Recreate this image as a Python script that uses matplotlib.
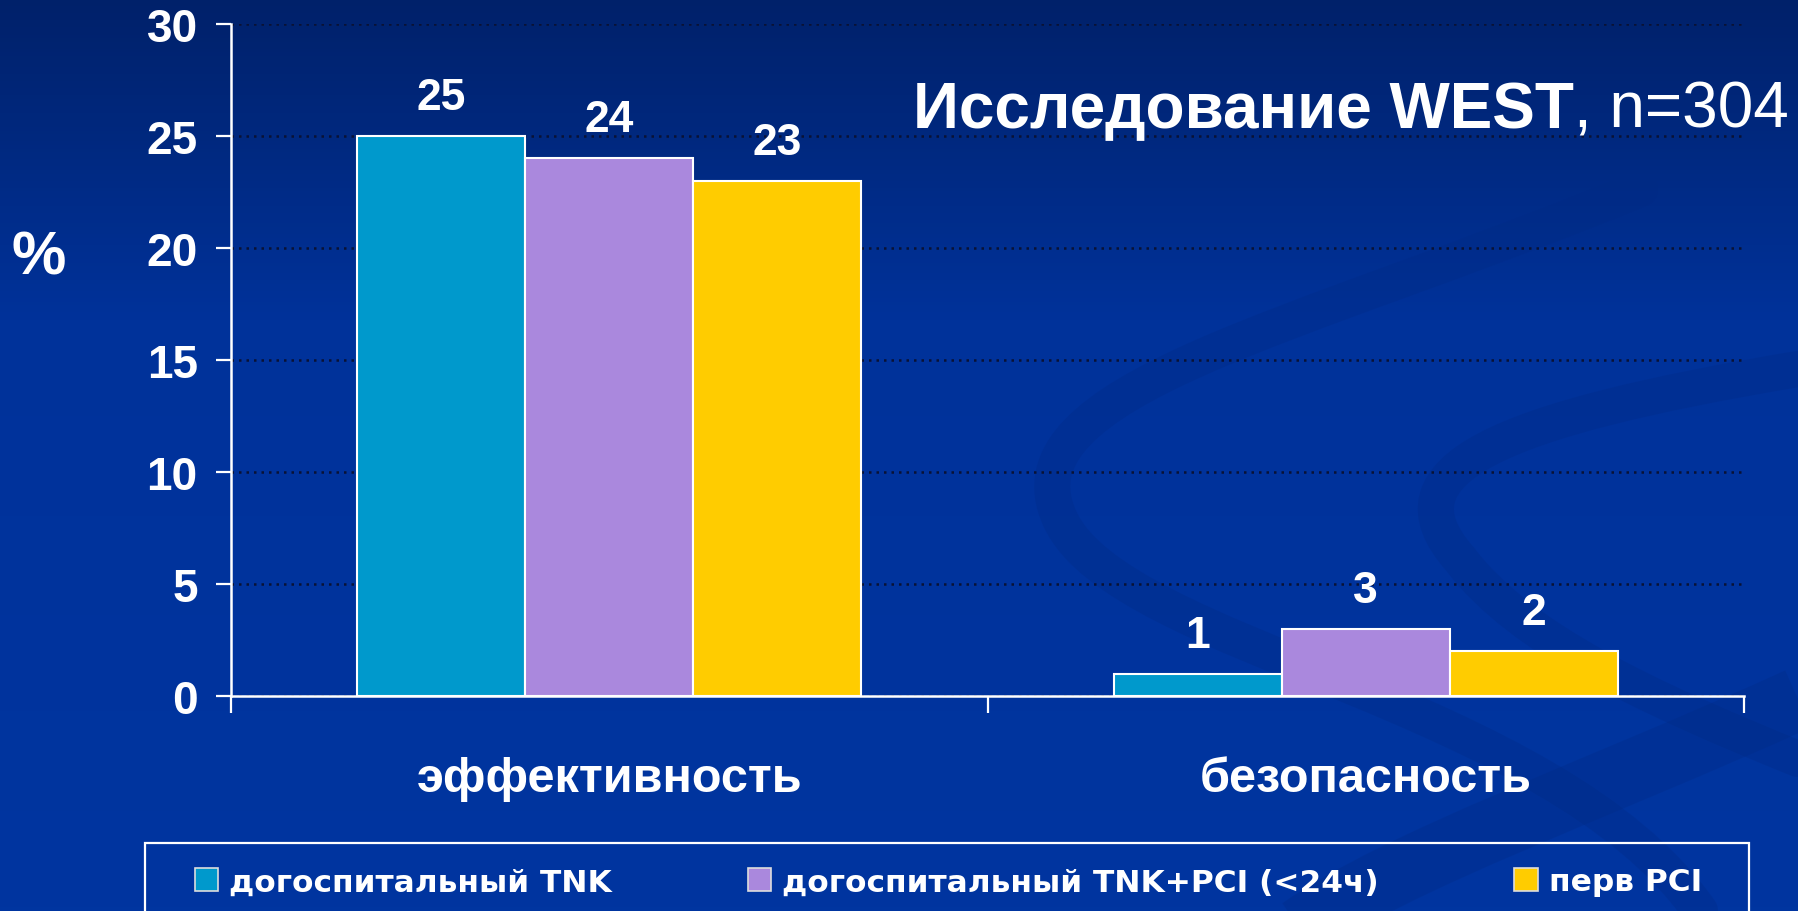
import numpy as np
import matplotlib.pyplot as plt
from matplotlib.patches import Patch, Rectangle, PathPatch
from matplotlib.path import Path
from matplotlib.colors import LinearSegmentedColormap

# данные
categories = ['эффективность', 'безопасность']
series_names = ['догоспитальный TNK', 'догоспитальный TNK+PCI (<24ч)', 'перв PCI']
values = [
    [25, 1],
    [24, 3],
    [23, 2],
]
colors = ['#0099cc', '#aa88dd', '#ffcc00']
yticks = [0, 5, 10, 15, 20, 25, 30]

W, H = 1798, 912
fig = plt.figure(figsize=(W / 100, H / 100), dpi=100)

# фон: градиент и завитки
bg = fig.add_axes([0, 0, 1, 1], zorder=-10)
grad = np.linspace(0, 1, 256).reshape(-1, 1)
cmap = LinearSegmentedColormap.from_list(
    'bg', [(0, '#00216a'), (0.35, '#00329a'), (1, '#0035a0')])
bg.imshow(grad, aspect='auto', cmap=cmap, extent=[0, W, H, 0])
bg.set_xlim(0, W)
bg.set_ylim(H, 0)
bg.axis('off')

swirls = [
    [(1640, 190), (1300, 330), (1000, 390), (1060, 520), (1120, 650), (1550, 700), (1700, 912)],
    [(1798, 370), (1500, 420), (1380, 470), (1460, 560), (1520, 640), (1650, 700), (1798, 760)],
]
for pts in swirls:
    codes = [Path.MOVETO] + [Path.CURVE4] * 6
    bg.add_patch(PathPatch(Path(pts, codes), facecolor='none',
                           edgecolor='#002a84', lw=26, alpha=0.3, capstyle='round'))
bg.add_patch(PathPatch(Path([(1798, 700), (1600, 790), (1400, 860), (1300, 930)],
                            [Path.MOVETO] + [Path.CURVE4] * 3),
                       facecolor='none', edgecolor='#002a84', lw=45, alpha=0.3))

# основной график
ax = fig.add_axes([231 / W, (H - 697) / H, 1513 / W, 672 / H])
ax.set_facecolor('none')

x = np.arange(len(categories))
width = 0.222
for i, (name, vals, c) in enumerate(zip(series_names, values, colors)):
    bars = ax.bar(x + (i - 1) * width, vals, width, color=c,
                  edgecolor='white', linewidth=1.5, zorder=3)
    ax.bar_label(bars, padding=13, fontsize=32, color='white',
                 family='Liberation Sans', fontweight='bold')

ax.set_xlim(-0.5, 1.5)
ax.set_ylim(0, 30)
ax.set_yticks(yticks)
ax.set_yticklabels([str(v) for v in yticks], fontsize=33, color='white',
                   family='Liberation Sans', fontweight='bold')
ax.tick_params(axis='y', length=11, width=1.6, color='white', pad=13)

ax.set_xticks([-0.5, 0.5, 1.5])
ax.set_xticklabels([])
ax.tick_params(axis='x', length=12, width=1.6, color='white')
for i, cat in enumerate(categories):
    ax.text(i, -83 / 672, cat, transform=ax.get_xaxis_transform(),
            ha='center', va='center', fontsize=35, fontweight='bold',
            color='white', family='Liberation Sans')

ax.yaxis.grid(True, linestyle=(0, (1, 2)), color='#0a1234', linewidth=1.8, zorder=0)
ax.set_axisbelow(True)
for s in ['top', 'right']:
    ax.spines[s].set_visible(False)
for s in ['left', 'bottom']:
    ax.spines[s].set_color('white')
    ax.spines[s].set_linewidth(1.8)

# подписи
fig.text(39 / W, (H - 259) / H, '%', fontsize=44, fontweight='bold',
         color='white', ha='center', va='center', family='Liberation Sans')
t2 = fig.text(1789 / W, (H - 128) / H, ', n=304', fontsize=46,
              color='white', ha='right', va='baseline', family='Liberation Sans')
ax.annotate('Исследование WEST', xy=(0, 0), xycoords=t2, ha='right', va='bottom',
            fontsize=46, fontweight='bold', color='white', family='Liberation Sans',
            annotation_clip=False)

# легенда
handles = [Patch(facecolor=c, edgecolor='#dddddd', linewidth=1.2) for c in colors]
leg = fig.legend(handles, series_names, ncol=3, mode='expand', frameon=False,
                 loc='center left', bbox_to_anchor=(195 / W, 29 / H, 1507 / W, 0),
                 borderpad=0, borderaxespad=0, handlelength=0.75, handleheight=0.75,
                 handletextpad=0.35, prop={'family': 'DejaVu Sans', 'weight': 'bold', 'size': 22.5})
for t in leg.get_texts():
    t.set_color('white')
fig.add_artist(Rectangle((145 / W, -0.05), 1604 / W, 0.05 + 68 / H,
                         transform=fig.transFigure, fill=False,
                         edgecolor='white', linewidth=1.6))

fig.savefig('out.png', dpi=100)
